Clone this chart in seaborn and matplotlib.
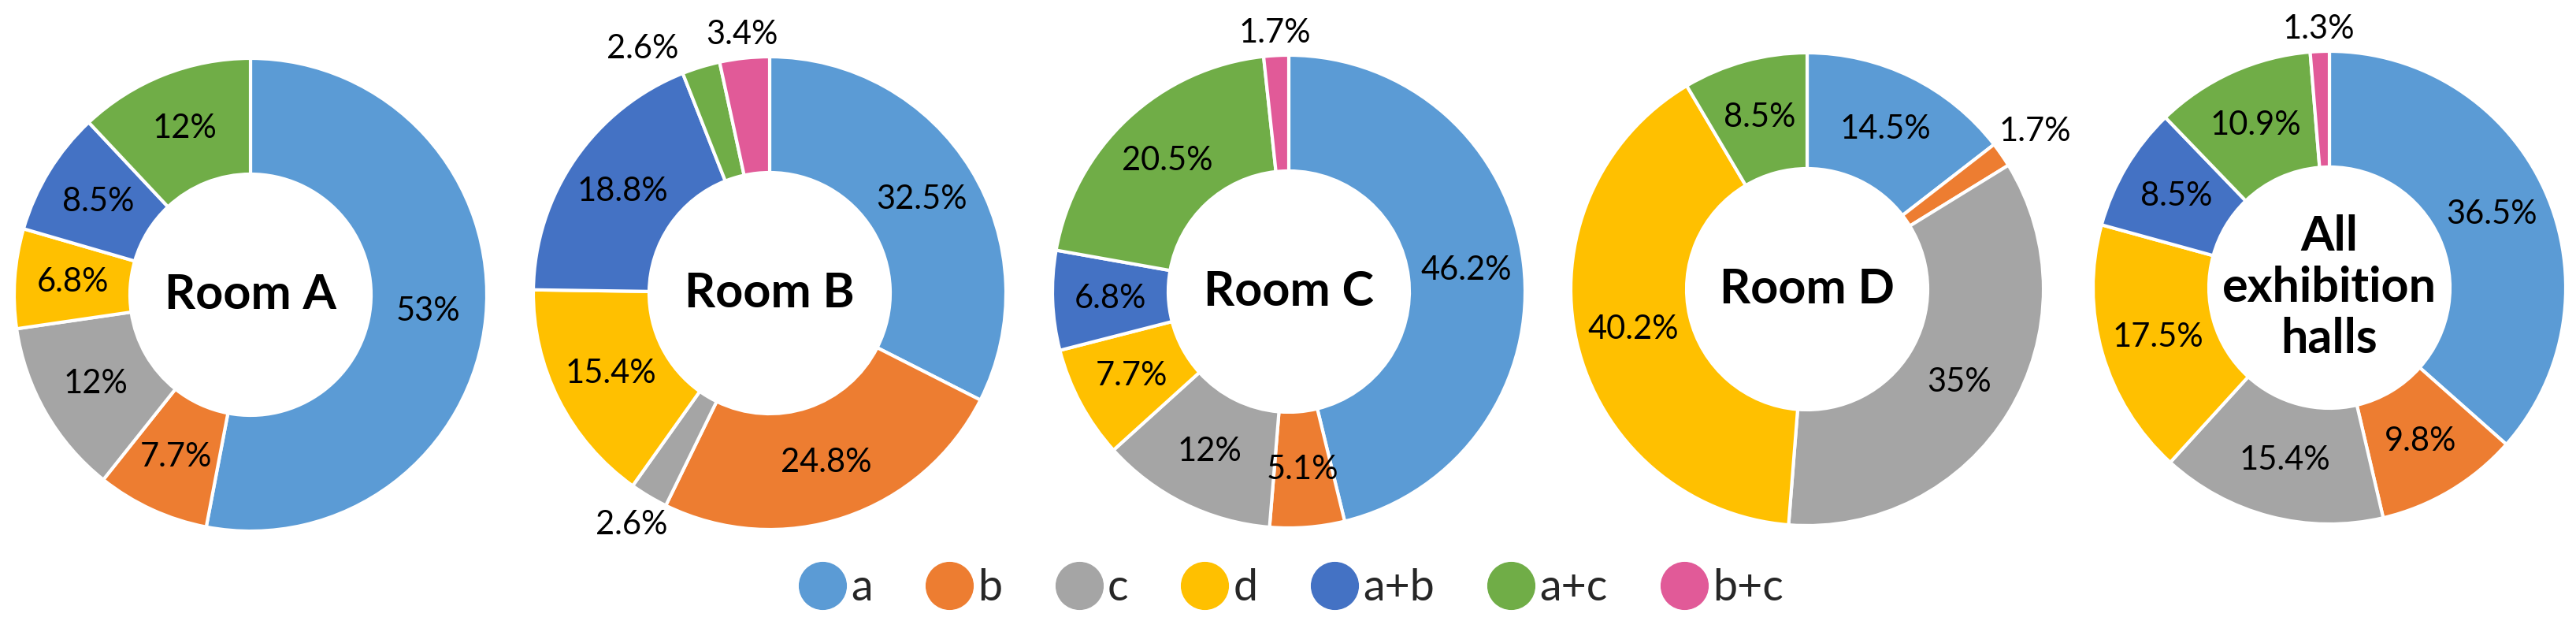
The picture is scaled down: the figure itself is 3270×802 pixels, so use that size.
import numpy as np
import matplotlib
matplotlib.use("Agg")
import matplotlib.pyplot as plt
import seaborn as sns
from matplotlib.lines import Line2D

# share of visitors per category, clockwise from 12 o'clock
categories = ['a', 'b', 'c', 'd', 'a+b', 'a+c', 'b+c']
room_a = [53, 7.7, 12, 6.8, 8.5, 12, 0]
room_b = [32.5, 24.8, 2.6, 15.4, 18.8, 2.6, 3.4]
room_c = [46.2, 5.1, 12, 7.7, 6.8, 20.5, 1.7]
room_d = [14.5, 1.7, 35, 40.2, 0, 8.5, 0]
all_halls = [36.5, 9.8, 15.4, 17.5, 8.5, 10.9, 1.3]
titles = ['Room A', 'Room B', 'Room C', 'Room D', 'All\nexhibition\nhalls']
colors = ['#5B9BD5', '#ED7D31', '#A5A5A5', '#FFC000', '#4472C4', '#70AD47', '#E15A98']

sns.set_theme(style='white')
plt.rcParams['font.family'] = ['Lato', 'DejaVu Sans']
palette = sns.color_palette(colors)

W, H = 3270, 802
fig = plt.figure(figsize=(W / 100, H / 100), dpi=100)

centers = [(318, 374), (977, 372), (1636, 370), (2294, 367), (2957, 365)]
R = 300
half = 1.25 * R

for vals, title, (cx, cy) in zip([room_a, room_b, room_c, room_d, all_halls], titles, centers):
    ax = fig.add_axes([(cx - half) / W, (H - cy - half) / H, 2 * half / W, 2 * half / H])
    keep = [i for i, v in enumerate(vals) if v > 0]
    v = [vals[i] for i in keep]
    wedges, _ = ax.pie(v, colors=[palette[i] for i in keep], startangle=90, counterclock=False,
                       wedgeprops=dict(width=0.49, edgecolor='white', linewidth=3))
    ax.set_xlim(-1.25, 1.25)
    ax.set_ylim(-1.25, 1.25)
    outside = []
    for w, val in zip(wedges, v):
        ang = np.deg2rad((w.theta1 + w.theta2) / 2)
        # small slices get their label outside the ring
        if val < 4:
            r = 1.09 + 0.1 * abs(np.cos(ang))
            outside.append([r * np.cos(ang), r * np.sin(ang), val])
        else:
            r = 0.755
            ax.text(r * np.cos(ang), r * np.sin(ang), f'{val:g}%', ha='center', va='center',
                    fontsize=30, color='black')
    # push apart outside labels that would collide
    outside.sort(key=lambda p: p[0])
    for i in range(1, len(outside)):
        prev, cur = outside[i - 1], outside[i]
        if abs(cur[0] - prev[0]) < 0.42 and abs(cur[1] - prev[1]) < 0.2:
            prev[0] = cur[0] - 0.42
            prev[1] = cur[1] - 0.06
    for x, y, val in outside:
        ax.text(x, y, f'{val:g}%', ha='center', va='center', fontsize=30, color='black')
    ax.text(0, 0, title, ha='center', va='center', fontsize=44, fontweight='bold',
            linespacing=1.2, color='black')

handles = [Line2D([], [], marker='o', linestyle='', markersize=43,
                  markerfacecolor=c, markeredgecolor=c) for c in palette]
fig.legend(handles, categories, loc='center', bbox_to_anchor=(1640 / W, 1 - 747 / H), ncol=7,
           frameon=False, fontsize=40, handlelength=1.0, handletextpad=0.15, columnspacing=1.25)

fig.savefig('out.png', dpi=100, facecolor='white')
